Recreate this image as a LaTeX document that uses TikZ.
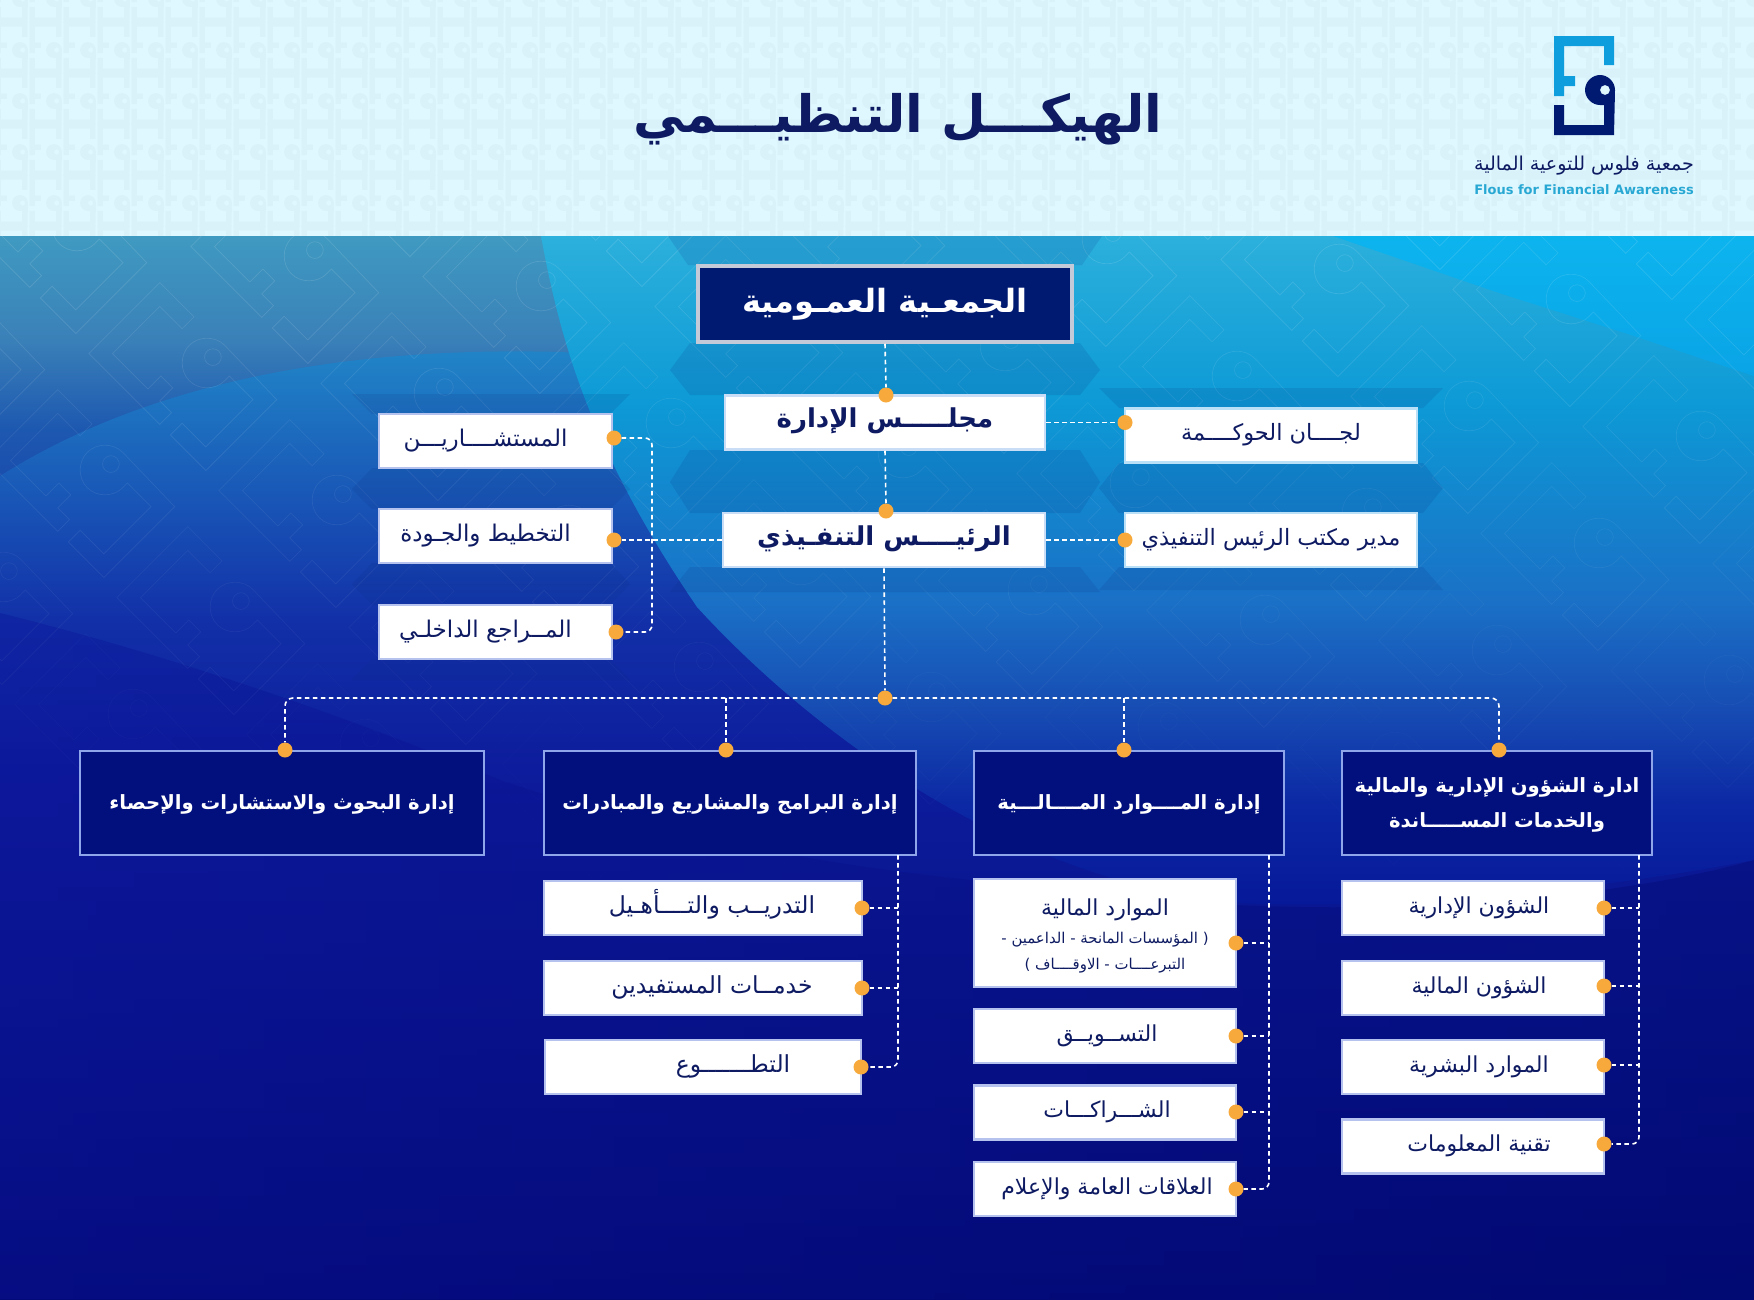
\documentclass[tikz,border=0pt]{standalone}
\usepackage{fontspec}
\TeXXeTstate=1
\newfontfamily\arabicfont[Script=Arabic]{DejaVu Sans}
\newfontfamily\latinbold{DejaVu Sans}
\definecolor{headbg}{HTML}{DFF8FF}
\definecolor{headmark}{HTML}{D9F2F9}
\definecolor{navy}{HTML}{0E1B62}
\definecolor{logolight}{HTML}{0F9EDD}
\definecolor{logodark}{HTML}{001A72}
\definecolor{teal}{HTML}{2AA8D4}
\definecolor{dotorange}{HTML}{F7A93B}
\definecolor{baseA}{HTML}{3F9AC1}
\definecolor{baseB}{HTML}{3A80B8}
\definecolor{baseC}{HTML}{1D58B0}
\definecolor{baseD}{HTML}{1230A8}
\definecolor{baseF}{HTML}{0D1C9C}
\definecolor{baseE}{HTML}{030A76}
\definecolor{swoA}{HTML}{2CB0DC}
\definecolor{swoB}{HTML}{0D9AD6}
\definecolor{swoC}{HTML}{1A70C6}
\definecolor{swoD}{HTML}{174EB4}
\definecolor{swoE}{HTML}{0C28A4}
\definecolor{swoF}{HTML}{061898}
\definecolor{wedgeA}{HTML}{0CB4EE}
\definecolor{wedgeB}{HTML}{0AA4E6}
\definecolor{leftA}{HTML}{2186C8}
\definecolor{lowA}{HTML}{0C129A}
\definecolor{lowB}{HTML}{00086C}
\definecolor{bandblue}{HTML}{0A2A80}
\definecolor{deptblue}{HTML}{02107E}
\definecolor{topedge}{HTML}{C5CAD8}
\definecolor{leadedge}{HTML}{C9DEF6}
\definecolor{sideedge}{HTML}{B9E0F6}
\definecolor{subedge}{HTML}{B5C2EE}
\definecolor{deptedge}{HTML}{8FA6EA}
\pgfdeclareverticalshading{basefill}{100bp}{color(0bp)=(baseE);color(25bp)=(baseE);color(50bp)=(baseF);color(57bp)=(baseD);color(65.9bp)=(baseC);color(70.1bp)=(baseB);color(75bp)=(baseA);color(100bp)=(baseA)}
\pgfdeclareverticalshading{swooshfill}{100bp}{color(0bp)=(swoF);color(25bp)=(swoF);color(32.8bp)=(swoE);color(40.3bp)=(swoD);color(47.8bp)=(swoC);color(62.7bp)=(swoB);color(75bp)=(swoA);color(100bp)=(swoA)}
\newcommand{\artext}[1]{\beginR #1\endR}
\newcommand{\fpart}{(-46,-54) -- (14,-54) -- (14,-25) -- (4,-25) -- (4,-44) -- (-36,-44) -- (-36,-14) -- (-25,-14) -- (-25,-4) -- (-36,-4) -- (-36,6) -- (-46,6) -- cycle}
\newcommand{\qpart}{(14,45) -- (-46,45) -- (-46,15) -- (-36,15) -- (-36,35) -- (4,35) -- (4,15) -- (0,15) .. controls (-8,15) and (-15,8) .. (-15,0) .. controls (-15,-8) and (-8,-15) .. (0,-15) .. controls (8,-15) and (15,-8) .. (15,0) -- cycle (5,0) circle[radius=5]}
\newcommand{\band}[4]{\fill[bandfill] (#1,#3) -- (#2,#3) -- ({#2-20},#4) -- ({#1+20},#4) -- cycle;}
\tikzset{
  bandfill/.style={fill=bandblue,opacity=0.13},
  link/.style={draw=white,line width=1.6pt,dash pattern=on 4.5pt off 3.5pt},
  dot/.style={circle,fill=dotorange,inner sep=0pt,minimum size=15pt},
  oneline/.style={text height=1.05em,text depth=0.05em},
  topbox/.style={rectangle,fill=logodark,draw=topedge,line width=3.5pt,text=white,inner sep=0pt,minimum width=374pt,minimum height=76pt,font=\arabicfont\bfseries\fontsize{32}{38}\selectfont},
  leadbox/.style={rectangle,oneline,fill=white,draw=leadedge,line width=2.5pt,text=navy,inner sep=0pt,minimum width=320pt,minimum height=54pt,font=\arabicfont\bfseries\fontsize{26}{31}\selectfont},
  sidebox/.style={rectangle,oneline,fill=white,draw=sideedge,line width=2.5pt,text=navy,inner sep=0pt,minimum width=292pt,minimum height=54pt,font=\arabicfont\fontsize{22.5}{27}\selectfont},
  leftbox/.style={sidebox,draw=subedge,minimum width=233pt,font=\arabicfont\fontsize{23}{28}\selectfont},
  depthead/.style={rectangle,fill=deptblue,draw=deptedge,line width=2pt,text=white,inner sep=0pt,minimum height=104pt,align=center,font=\arabicfont\bfseries\fontsize{19.6}{35}\selectfont},
  subbox/.style={rectangle,fill=white,draw=subedge,line width=2.5pt,text=navy,inner sep=0pt,minimum height=54pt,align=center,font=\arabicfont\fontsize{22}{26}\selectfont},
  subline/.style={subbox,oneline},
  progline/.style={subline,font=\arabicfont\fontsize{23.5}{28}\selectfont},
}
\begin{document}
\begin{tikzpicture}[x=1pt,y=-1pt]
\useasboundingbox (0,0) rectangle (1754,1299);
\fill[headbg] (0,0) rectangle (1754,236);
\begin{scope}
\clip (0,0) rectangle (1754,236);
\foreach \i in {0,...,51} {
  \foreach \j in {-1,...,4} {
    \begin{scope}[shift={({20+34*\i},{50+51*\j})},scale=0.53]
      \fill[headmark] \fpart;
      \fill[headmark,even odd rule] \qpart;
    \end{scope}
  }
}
\end{scope}
\shade[shading=basefill] (0,236) rectangle (1754,1299);
\shade[top color=leftA,bottom color=baseD] (0,476) .. controls (120,400) and (300,345) .. (560,352) -- (720,360) -- (720,620) -- (0,620) -- cycle;
\shade[shading=swooshfill] (541,236) .. controls (560,340) and (590,450) .. (697,607) .. controls (800,720) and (1000,880) .. (1237,903) .. controls (1400,910) and (1600,890) .. (1754,860) -- (1754,236) -- cycle;
\shade[top color=wedgeA,bottom color=wedgeB] (1333,236) -- (1499,293) -- (1634,336) -- (1754,376) -- (1754,236) -- cycle;
\shade[left color=lowA,right color=lowB,opacity=0.35] (0,613) .. controls (150,650) and (333,710) .. (500,780) .. controls (800,880) and (1000,880) .. (1237,905) .. controls (1450,915) and (1650,890) .. (1754,860) -- (1754,1299) -- (0,1299) -- cycle;
\begin{scope}
\clip (0,236) rectangle (1754,1299);
\foreach \i in {-6,...,11} {
  \foreach \j in {-6,...,13} {
    \pgfmathsetmacro\px{207+130*\i+102*\j}
    \pgfmathsetmacro\py{363+137*\i-107*\j}
    \pgfmathsetmacro\op{max(0,0.12*(1-(\py-236)/600))}
    \begin{scope}[shift={(\px,\py)},rotate=45,scale=1.67]
      \draw[white,line width=0.7pt,opacity=\op] \fpart;
      \draw[white,line width=0.7pt,opacity=\op] \qpart;
    \end{scope}
  }
}
\end{scope}
\band{668}{1102}{236}{265}
\band{670}{1100}{370}{343}
\band{670}{1100}{370}{395}
\band{670}{1100}{482}{450}
\band{670}{1100}{482}{513}
\band{670}{1100}{592}{567}
\band{1099}{1443}{388}{408}
\band{1099}{1443}{488}{463}
\band{1099}{1443}{488}{513}
\band{1099}{1443}{590}{567}
\band{352}{630}{394}{414}
\band{352}{630}{489}{468}
\band{352}{630}{489}{509}
\band{352}{630}{584}{563}
\band{352}{630}{584}{605}
\band{352}{630}{680}{659}
\begin{scope}[shift={(1600,90)}]
  \fill[logolight] \fpart;
  \fill[logodark,even odd rule] \qpart;
\end{scope}
\node[text=navy,font=\arabicfont\fontsize{19.1}{23}\selectfont] (orgname) at (1584,166) {\artext{جمعية فلوس للتوعية المالية}};
\node[text=teal,font=\latinbold\bfseries\fontsize{13}{15}\selectfont] (orgeng) at (1584,190) {Flous for Financial Awareness};
\node[text=navy,font=\arabicfont\bfseries\fontsize{51.5}{60}\selectfont] (title) at (898,119) {\artext{الهيكـــل التنظيـــمي}};
\node[topbox] (general) at (885,304) {\artext{الجمعـية العمـومية}};
\node[leadbox] (council) at (885,422.5) {\artext{مجلـــــس الإدارة}};
\node[leadbox,minimum width=322pt] (ceo) at (884,540) {\artext{الرئيــــس التنفـيذي}};
\node[sidebox] (govern) at (1271,435.5) {\artext{لجــــان الحوكــــمة}};
\node[sidebox] (office) at (1271,540) {\artext{مدير مكتب الرئيس التنفيذي}};
\node[leftbox] (advisers) at (495.5,441) {\artext{المستشــــاريـــن}\hspace*{20pt}};
\node[leftbox] (planning) at (495.5,536) {\artext{التخطيط والجـودة}\hspace*{20pt}};
\node[leftbox] (audit) at (495.5,632) {\artext{المــراجع الداخلـي}\hspace*{20pt}};
\node[depthead,minimum width=404pt] (research) at (282,803) {\rule{0pt}{18pt}\artext{إدارة البحوث والاستشارات والإحصاء}};
\node[depthead,minimum width=372pt] (programs) at (730,803) {\rule{0pt}{18pt}\artext{إدارة البرامج والمشاريع والمبادرات}};
\node[depthead,minimum width=310pt] (finres) at (1129,803) {\rule{0pt}{18pt}\artext{إدارة المــــوارد المــــالـــية}};
\node[depthead,minimum width=310pt] (admin) at (1497,803) {\rule{0pt}{19pt}\artext{ادارة الشؤون الإدارية والمالية}\\\artext{والخدمات  المســـــاندة}};
\node[progline,minimum width=318pt] (training) at (703,908) {\hspace*{18pt}\artext{التدريــب والتــــأهـيل}};
\node[progline,minimum width=318pt] (benefit) at (703,988) {\hspace*{18pt}\artext{خدمــات المستفيدين}};
\node[progline,minimum width=316pt] (volunteer) at (703,1067) {\hspace*{60pt}\artext{التطـــــــوع}};
\node[subbox,minimum width=262pt,minimum height=108pt] (funds) at (1105,933) {\rule{0pt}{22pt}\artext{الموارد المالية}\\[2pt]{\fontsize{14.9}{22}\selectfont\artext{( المؤسسات المانحة - الداعمين -}}\\{\fontsize{14.9}{22}\selectfont\artext{التبرعــــات - الاوقــــاف )}}};
\node[subline,minimum width=262pt] (market) at (1105,1036) {\hspace*{4pt}\artext{التســويــق}};
\node[subline,minimum width=262pt] (partners) at (1105,1112.5) {\hspace*{4pt}\artext{الشـــراكـــات}};
\node[subline,minimum width=262pt] (media) at (1105,1189) {\hspace*{4pt}\artext{العلاقات العامة والإعلام}};
\node[subline,minimum width=262pt] (affairs) at (1473,908) {\hspace*{12pt}\artext{الشؤون الإدارية}};
\node[subline,minimum width=262pt] (money) at (1473,988) {\hspace*{12pt}\artext{الشؤون المالية}};
\node[subline,minimum width=262pt] (people) at (1473,1067) {\hspace*{12pt}\artext{الموارد البشرية}};
\node[subline,minimum width=262pt] (tech) at (1473,1146.5) {\hspace*{12pt}\artext{تقنية المعلومات}};
\node[dot] (dcouncil) at (886,395) {};
\node[dot] (dceo) at (886,511) {};
\node[dot] (dgovern) at (1125,422.5) {};
\node[dot] (doffice) at (1125,540) {};
\node[dot] (dadvisers) at (614,438) {};
\node[dot] (dplanning) at (614,540) {};
\node[dot] (daudit) at (616,632) {};
\node[dot] (dbus) at (885,698) {};
\node[dot] (dresearch) at (285,750) {};
\node[dot] (dprograms) at (726,750) {};
\node[dot] (dfinres) at (1124,750) {};
\node[dot] (dadmin) at (1499,750) {};
\node[dot] (dtraining) at (862,908) {};
\node[dot] (dbenefit) at (862,988) {};
\node[dot] (dvolunteer) at (861,1067) {};
\node[dot] (dfunds) at (1236,943) {};
\node[dot] (dmarket) at (1236,1036) {};
\node[dot] (dpartners) at (1236,1112) {};
\node[dot] (dmedia) at (1236,1189) {};
\node[dot] (daffairs) at (1604,908) {};
\node[dot] (dmoney) at (1604,986) {};
\node[dot] (dpeople) at (1604,1065) {};
\node[dot] (dtech) at (1604,1144) {};
\coordinate (advbar) at (652,540);
\coordinate (busprog) at (726,698);
\coordinate (busfin) at (1124,698);
\coordinate (progstem) at (898,855);
\coordinate (finstem) at (1269,855);
\coordinate (adminstem) at (1639,855);
\draw[link] (general.south) -- (dcouncil.north);
\draw[link] (council.south) -- (dceo.north);
\draw[link] (ceo.south) -- (dbus.north);
\draw[link] (council.east) -- (dgovern.west);
\draw[link] (ceo.east) -- (doffice.west);
\draw[link] (ceo.west) -- (dplanning.east);
\draw[link,rounded corners=7pt] (dadvisers.east) -| (advbar) |- (daudit.east);
\draw[link,rounded corners=8pt] (dbus.west) -| (dresearch.north);
\draw[link,rounded corners=8pt] (dbus.east) -| (dadmin.north);
\draw[link] (busprog) -- (dprograms.north);
\draw[link] (busfin) -- (dfinres.north);
\draw[link,rounded corners=7pt] (progstem) |- (dvolunteer.east);
\draw[link] (dtraining.east) -- (dtraining.east -| progstem);
\draw[link] (dbenefit.east) -- (dbenefit.east -| progstem);
\draw[link,rounded corners=7pt] (finstem) |- (dmedia.east);
\draw[link] (dfunds.east) -- (dfunds.east -| finstem);
\draw[link] (dmarket.east) -- (dmarket.east -| finstem);
\draw[link] (dpartners.east) -- (dpartners.east -| finstem);
\draw[link,rounded corners=7pt] (adminstem) |- (dtech.east);
\draw[link] (daffairs.east) -- (daffairs.east -| adminstem);
\draw[link] (dmoney.east) -- (dmoney.east -| adminstem);
\draw[link] (dpeople.east) -- (dpeople.east -| adminstem);
\end{tikzpicture}
\end{document}
